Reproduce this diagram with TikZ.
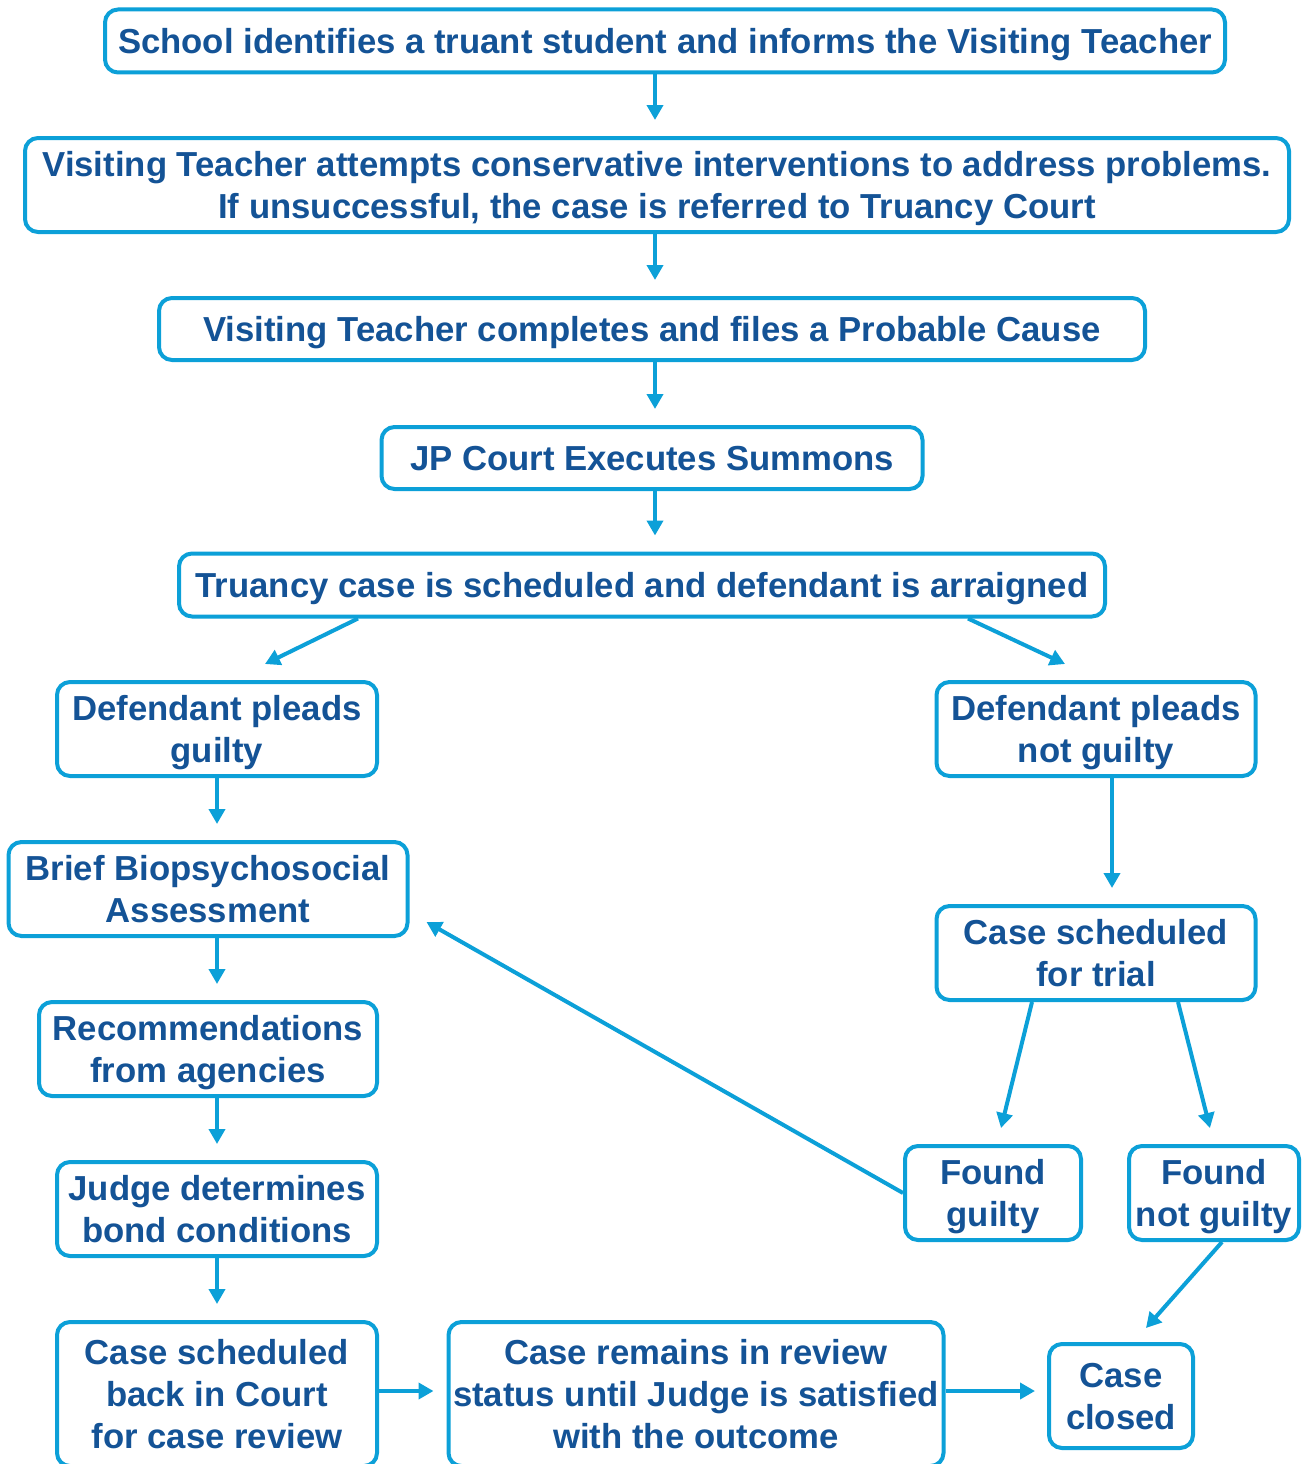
\documentclass[tikz,border=0pt]{standalone}
\usepackage{fontspec}
\setmainfont{Liberation Sans}
\usetikzlibrary{arrows.meta,calc}
\definecolor{bordc}{RGB}{12,160,216}
\definecolor{txtc}{RGB}{20,83,150}
\tikzset{
  box/.style={draw=bordc, line width=4pt, rounded corners=13pt, inner sep=0pt,
    align=center, text=txtc, text depth=-2.5pt, font=\fontsize{34.7}{41.8}\selectfont\bfseries},
  arr/.style={draw=bordc, line width=4pt, -{Triangle[length=15pt,width=16pt]}}
}
\begin{document}
\begin{tikzpicture}[x=1pt,y=-1pt]
\useasboundingbox (0,0) rectangle (1302,1464);
\fill[white] (0,0) rectangle (1302,1464);
\clip (0,0) rectangle (1302,1464);
\node[box, minimum width=1120pt, minimum height=63pt] (school) at (665,41) {School identifies a truant student and informs the Visiting Teacher};
\node[box, minimum width=1264pt, minimum height=94pt] (vt) at (657,185) {Visiting Teacher attempts conservative interventions to address problems.\\If unsuccessful, the case is referred to Truancy Court};
\node[box, minimum width=986pt, minimum height=62pt] (vtc) at (652,329) {Visiting Teacher completes and files a Probable Cause};
\node[box, minimum width=541pt, minimum height=62pt] (jp) at (652,458) {JP Court Executes Summons};
\node[box, minimum width=926pt, minimum height=63pt] (tru) at (642,585) {Truancy case is scheduled and defendant is arraigned};
\node[box, minimum width=320pt, minimum height=94pt] (dg) at (217,729) {Defendant pleads\\guilty};
\node[box, minimum width=319pt, minimum height=94pt] (dng) at (1096,729) {Defendant pleads\\not guilty};
\node[box, minimum width=399pt, minimum height=94pt] (brief) at (208,889) {Brief Biopsychosocial\\Assessment};
\node[box, minimum width=319pt, minimum height=94pt] (trial) at (1096,953) {Case scheduled\\for trial};
\node[box, minimum width=338pt, minimum height=94pt] (rec) at (208,1049) {Recommendations\\from agencies};
\node[box, minimum width=176pt, minimum height=94pt] (fg) at (993,1193) {Found\\guilty};
\node[box, minimum width=170pt, minimum height=94pt] (fng) at (1214,1193) {Found\\not guilty};
\node[box, minimum width=320pt, minimum height=94pt] (judge) at (217,1209) {Judge determines\\bond conditions};
\node[box, minimum width=320pt, minimum height=144pt] (csb) at (217,1394) {Case scheduled\\back in Court\\for case review};
\node[box, minimum width=495pt, minimum height=144pt] (crr) at (696,1394) {Case remains in review\\status until Judge is satisfied\\with the outcome};
\node[box, minimum width=144pt, minimum height=104pt] (closed) at (1121,1396) {Case\\closed};

\draw[arr] ($(school.south)+(-10,0)$) -- ($(vt.north)+(-2,-16)$);
\draw[arr] ($(vt.south)+(-2,0)$) -- ($(vtc.north)+(3,-16)$);
\draw[arr] ($(vtc.south)+(3,0)$) -- ($(jp.north)+(3,-16)$);
\draw[arr] ($(jp.south)+(3,0)$) -- ($(tru.north)+(13,-16)$);
\draw[arr] ($(tru.south)+(-284,0)$) -- ($(dg.north)+(48,-16)$);
\draw[arr] ($(tru.south)+(326,0)$) -- ($(dng.north)+(-31,-16)$);
\draw[arr] ($(dg.south)+(0,0)$) -- ($(brief.north)+(9,-16)$);
\draw[arr] ($(brief.south)+(9,0)$) -- ($(rec.north)+(9,-16)$);
\draw[arr] ($(rec.south)+(9,0)$) -- ($(judge.north)+(0,-16)$);
\draw[arr] (judge.south) -- ($(csb.north)+(0,-16)$);
\draw[arr] ($(dng.south)+(16,0)$) -- ($(trial.north)+(16,-16)$);
\draw[arr] ($(trial.south)+(-64,0)$) -- ($(fg.north)+(8,-16)$);
\draw[arr] ($(trial.south)+(82,0)$) -- ($(fng.north)+(-4,-16)$);
\draw[arr] (fg.west) -- ($(brief.east)+(17,33)$);
\draw[arr] ($(fng.south)+(8,0)$) -- ($(closed.north)+(25,-14)$);
\draw[arr] ($(csb.east)+(0,-3)$) -- ($(crr.west)+(-13,-3)$);
\draw[arr] ($(crr.east)+(0,-3)$) -- ($(closed.west)+(-12,-5)$);
\end{tikzpicture}
\end{document}
